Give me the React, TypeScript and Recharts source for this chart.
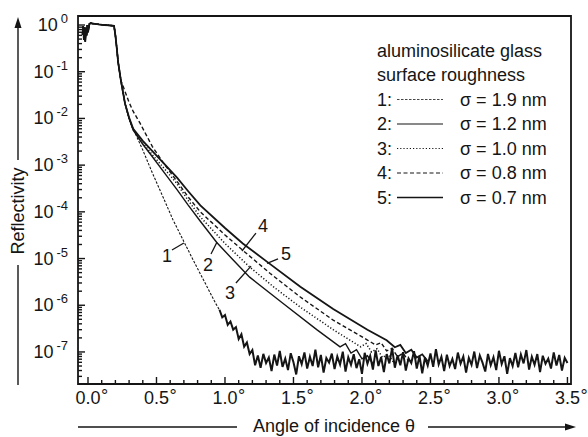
import {
  LineChart,
  Line,
  XAxis,
  YAxis,
  ReferenceArea,
  ReferenceLine,
  ReferenceDot,
  Legend,
} from "recharts";

const INK = "#151515";
const FONT = '"Liberation Sans", Arial, Helvetica, sans-serif';

// shared start: wiggle at grazing incidence, plateau, edge of total reflection
const headAngle = [-0.04, -0.035, -0.03, -0.025, -0.02, -0.015, -0.01, -0.005, 0.0, 0.01, 0.02, 0.03, 0.05, 0.08, 0.12, 0.16, 0.19, 0.2, 0.21, 0.22, 0.24];
const headR = [0.62, 0.95, 0.48, 0.9, 0.44, 0.85, 0.6, 1.0, 0.7, 1.05, 1.1, 1.08, 1.06, 1.03, 1.0, 0.98, 0.96, 0.6, 0.32, 0.16, 0.065];

// sigma = 1.9 nm
const curve1Angle = [0.27, 0.3, 0.33, 0.4, 0.47, 0.55, 0.62, 0.7, 0.78, 0.86, 0.93, 0.96];
const curve1R = [2.1e-2, 1.0e-2, 6.0e-3, 2.1e-3, 6.8e-4, 2.0e-4, 6.8e-5, 2.3e-5, 7.9e-6, 2.8e-6, 1.12e-6, 7.9e-7];

// sigma = 1.2 nm
const curve2Angle = [0.27, 0.3, 0.33, 0.4, 0.47, 0.58, 0.65, 0.73, 0.82, 0.94, 1.06, 1.18, 1.42, 1.67, 1.84, 1.88, 1.92, 1.96, 2.0, 2.04, 2.08];
const curve2R = [2.1e-2, 1.0e-2, 5.6e-3, 2.8e-3, 1.51e-3, 5.6e-4, 3.0e-4, 1.41e-4, 6.3e-5, 2.2e-5, 9.3e-6, 4.0e-6, 1.12e-6, 3.0e-7, 1.29e-7, 1.51e-7, 9.5e-8, 1.12e-7, 7.1e-8, 8.3e-8, 5.6e-8];

// sigma = 1.0 nm
const curve3Angle = [0.27, 0.3, 0.33, 0.4, 0.47, 0.55, 0.65, 0.73, 0.82, 1.0, 1.18, 1.36, 1.55, 1.79, 1.99, 2.03, 2.07, 2.11, 2.15, 2.19, 2.23];
const curve3R = [2.1e-2, 1.0e-2, 5.8e-3, 3.0e-3, 1.66e-3, 8.9e-4, 4.0e-4, 1.78e-4, 7.8e-5, 2.1e-5, 6.6e-6, 2.4e-6, 9.1e-7, 3.0e-7, 1.29e-7, 1.51e-7, 1.0e-7, 1.17e-7, 7.6e-8, 8.9e-8, 6.0e-8];

// sigma = 0.8 nm
const curve4Angle = [0.27, 0.3, 0.33, 0.38, 0.47, 0.55, 0.65, 0.73, 0.82, 1.0, 1.13, 1.33, 1.55, 1.79, 2.04, 2.1, 2.14, 2.18, 2.22, 2.26, 2.3, 2.34];
const curve4R = [3.8e-2, 2.2e-2, 1.41e-2, 7.9e-3, 2.5e-3, 1.12e-3, 4.5e-4, 2.1e-4, 1.0e-4, 3.2e-5, 1.5e-5, 4.8e-6, 1.5e-6, 4.8e-7, 1.8e-7, 1.41e-7, 1.58e-7, 1.05e-7, 1.2e-7, 7.9e-8, 9.5e-8, 6.3e-8];

// sigma = 0.7 nm
const curve5Angle = [0.27, 0.3, 0.33, 0.4, 0.47, 0.55, 0.65, 0.73, 0.82, 1.0, 1.13, 1.33, 1.55, 1.79, 2.04, 2.18, 2.24, 2.28, 2.32, 2.36, 2.4, 2.44, 2.48];
const curve5R = [2.1e-2, 1.05e-2, 6.0e-3, 3.3e-3, 2.0e-3, 1.12e-3, 5.4e-4, 2.8e-4, 1.38e-4, 4.5e-5, 2.1e-5, 7.6e-6, 2.5e-6, 8.3e-7, 3.0e-7, 1.78e-7, 1.26e-7, 1.41e-7, 9.5e-8, 1.12e-7, 7.6e-8, 8.9e-8, 6.3e-8];

// detector background (tail of curve 1 and the common floor), every 0.02 deg, in units of 1e-8
const floorStart = 0.96;
const floorStep = 0.02;
const floorR = [
  80, 55, 62, 38, 45, 30, 34, 19, 24, 13, 16, 9, 11,
  5.2, 8.4, 4.6, 9.1, 5.8, 7.6, 3.9, 8.8, 5.1, 10.5,
  4.8, 7.2, 4.1, 9.4, 6.0, 3.3, 8.1, 5.5, 9.8, 4.4,
  7.9, 5.0, 11.2, 4.7, 8.6, 3.6, 7.4, 5.9, 9.2, 4.3,
  8.0, 5.4, 10.1, 3.8, 7.7, 5.3, 8.9, 4.5, 7.0, 3.4,
  9.6, 5.6, 8.3, 4.2, 10.8, 5.0, 7.8, 3.7, 9.0, 5.7,
  12.0, 4.6, 8.5, 5.2, 9.9, 4.0, 7.3, 5.8, 10.4, 4.4,
  8.2, 3.5, 7.6, 5.1, 9.3, 4.8, 11.5, 5.4, 7.9, 3.9,
  8.7, 5.0, 7.1, 4.3, 9.7, 5.6, 8.0, 3.6, 7.5, 5.3,
  10.2, 4.5, 8.4, 5.9, 3.8, 9.1, 5.2, 7.7, 4.1, 10.6,
  5.5, 8.1, 3.4, 7.4, 5.0, 9.5, 4.7, 8.8, 5.7, 11.0,
  4.2, 7.9, 5.3, 9.0, 3.7, 8.3, 5.6, 7.2, 4.4, 9.8,
  5.1, 8.6, 4.0, 7.5, 5.8,
];

const curveIds = ["1", "2", "3", "4", "5"];
const sigmaNm = ["1.9", "1.2", "1.0", "0.8", "0.7"];

// curve number labels with their leader lines
const labelAngle = [0.577, 0.876, 1.036, 1.277, 1.445];
const labelR = [1.13e-5, 7.6e-6, 1.83e-6, 5.0e-5, 1.3e-5];
const leaderFromAngle = [0.613, 0.898, 1.08, 1.226, 1.387];
const leaderFromR = [1.52e-5, 1.25e-5, 3.0e-6, 3.5e-5, 9.8e-6];
const leaderToAngle = [0.7, 0.942, 1.19, 1.124, 1.307];
const leaderToR = [2.15e-5, 2.26e-5, 6.9e-6, 1.45e-5, 7.9e-6];

const angleTicks = [
  0, 0.1, 0.2, 0.3, 0.4, 0.5, 0.6, 0.7, 0.8, 0.9, 1.0, 1.1, 1.2, 1.3, 1.4, 1.5, 1.6, 1.7,
  1.8, 1.9, 2.0, 2.1, 2.2, 2.3, 2.4, 2.5, 2.6, 2.7, 2.8, 2.9, 3.0, 3.1, 3.2, 3.3, 3.4, 3.5,
];
const decades = [1e-8, 1e-7, 1e-6, 1e-5, 1e-4, 1e-3, 1e-2, 1e-1, 1];
const minorMantissa = [1, 2, 3, 4, 5, 6, 7, 8, 9];

const xDomain: [number, number] = [-0.073, 3.526];
const yDomain: [number, number] = [2.06e-8, 1.56];

const yTicks = decades
  .flatMap((d) => minorMantissa.map((m) => d * m))
  .filter((v) => v >= yDomain[0] && v <= yDomain[1]);

const dashes = ["2.5 1.5", undefined, "1.2 2", "4 2.5", undefined];
const widths = [1.1, 1.4, 1.5, 1.4, 1.8];

const toPoints = (angles: number[], values: number[]) =>
  angles.map((a, i) => ({ angle: a, r: values[i] }));

const headPoints = toPoints(headAngle, headR);
const tails = [
  toPoints(curve1Angle, curve1R),
  toPoints(curve2Angle, curve2R),
  toPoints(curve3Angle, curve3R),
  toPoints(curve4Angle, curve4R),
  toPoints(curve5Angle, curve5R),
];
const series = curveIds.map((id, i) => ({ id, data: [...headPoints, ...tails[i]] }));
const floorPoints = floorR.map((v, i) => ({ angle: floorStart + i * floorStep, r: v * 1e-8 }));

function AngleTick(props: any) {
  const { x, y, payload } = props;
  const v = payload.value as number;
  const major = Math.abs(v * 2 - Math.round(v * 2)) < 1e-6;
  return (
    <g>
      <line x1={x} x2={x} y1={y} y2={y - (major ? 7 : 4)} stroke={INK} strokeWidth={1.4} />
      {major && (
        <>
          <text x={x} y={y + 20} textAnchor="middle" fontSize={18} fontFamily={FONT} fill={INK}>
            {v.toFixed(1)}
          </text>
          <text x={x + 13} y={y + 18} fontSize={18} fontFamily={FONT} fill={INK}>
            °
          </text>
        </>
      )}
    </g>
  );
}

function DecadeTick(props: any) {
  const { x, y, payload } = props;
  const e = Math.log10(payload.value as number);
  const major = Math.abs(e - Math.round(e)) < 1e-6;
  return (
    <g>
      <line x1={x} x2={x + (major ? 7 : 4)} y1={y} y2={y} stroke={INK} strokeWidth={1.4} />
      {major && (
        <text x={x - 10} y={y + 6} textAnchor="end" fontSize={18} fontFamily={FONT} fill={INK}>
          10
          <tspan dx={3} dy={-8} fontSize={13}>
            {String(Math.round(e))}
          </tspan>
        </text>
      )}
    </g>
  );
}

function XTitle() {
  return (
    <g>
      <line x1={78} x2={237} y1={427} y2={427} stroke={INK} strokeWidth={1.4} />
      <text x={334} y={432} textAnchor="middle" fontSize={18} fontFamily={FONT} fill={INK}>
        Angle of incidence θ
      </text>
      <line x1={428} x2={567} y1={427} y2={427} stroke={INK} strokeWidth={1.4} />
      <polygon points="576,427 565,423.5 565,430.5" fill={INK} />
    </g>
  );
}

function YTitle() {
  return (
    <g>
      <line x1={18} x2={18} y1={385} y2={265} stroke={INK} strokeWidth={1.4} />
      <text
        x={18}
        y={211}
        transform="rotate(-90 18 211)"
        textAnchor="middle"
        dominantBaseline="central"
        fontSize={18}
        fontFamily={FONT}
        fill={INK}
      >
        Reflectivity
      </text>
      <line x1={18} x2={18} y1={160} y2={27} stroke={INK} strokeWidth={1.4} />
      <polygon points="18,17 14.5,28 21.5,28" fill={INK} />
    </g>
  );
}

function LegendBlock() {
  const txt = { fontSize: 18, fontFamily: FONT, fill: INK };
  return (
    <svg width={210} height={185} style={{ display: "block" }}>
      <text x={7} y={26.5} {...txt}>aluminosilicate glass</text>
      <text x={7} y={50.5} {...txt}>surface roughness</text>
      {curveIds.map((id, i) => {
        const y = 75.5 + i * 24.5;
        return (
          <g key={id}>
            <text x={7} y={y} {...txt}>{id}:</text>
            <line
              x1={27}
              x2={73}
              y1={y - 6}
              y2={y - 6}
              stroke={INK}
              strokeWidth={widths[i] - 0.3}
              strokeDasharray={dashes[i]}
            />
            <text x={90} y={y} {...txt}>σ = {sigmaNm[i]} nm</text>
          </g>
        );
      })}
    </svg>
  );
}

export default function App() {
  return (
    <div style={{ width: 588, height: 437, background: "#fff" }}>
      <style>{"body{margin:0}"}</style>
      <LineChart width={588} height={437} margin={{ top: 16, right: 17, bottom: 0, left: 0 }}>
        <XAxis
          dataKey="angle"
          type="number"
          domain={xDomain}
          allowDataOverflow
          ticks={angleTicks}
          interval={0}
          height={53}
          tickSize={0}
          tickMargin={0}
          axisLine={false}
          tickLine={false}
          tick={(p: any) => <AngleTick {...p} />}
          label={{ content: () => <XTitle /> }}
        />
        <YAxis
          type="number"
          scale="log"
          domain={yDomain}
          allowDataOverflow
          ticks={yTicks}
          interval={0}
          width={78}
          tickSize={0}
          tickMargin={0}
          axisLine={false}
          tickLine={false}
          tick={(p: any) => <DecadeTick {...p} />}
          label={{ content: () => <YTitle /> }}
        />
        <ReferenceArea
          x1={xDomain[0]}
          x2={xDomain[1]}
          y1={yDomain[0]}
          y2={yDomain[1]}
          fill="none"
          stroke={INK}
          strokeWidth={1.8}
          ifOverflow="visible"
        />
        <Legend
          layout="horizontal"
          verticalAlign="middle"
          align="center"
          wrapperStyle={{ left: 370, top: 30, width: 210, height: 185 }}
          content={() => <LegendBlock />}
        />
        <Line
          data={floorPoints}
          dataKey="r"
          type="linear"
          stroke={INK}
          strokeWidth={2}
          dot={false}
          activeDot={false}
          legendType="none"
          isAnimationActive={false}
        />
        {series.map((s, i) => (
          <Line
            key={s.id}
            data={s.data}
            dataKey="r"
            type="linear"
            stroke={INK}
            strokeWidth={widths[i]}
            strokeDasharray={dashes[i]}
            dot={false}
            activeDot={false}
            legendType="none"
            isAnimationActive={false}
          />
        ))}
        {curveIds.map((id, i) => (
          <ReferenceLine
            key={"leader" + id}
            segment={[
              { x: leaderFromAngle[i], y: leaderFromR[i] },
              { x: leaderToAngle[i], y: leaderToR[i] },
            ]}
            stroke={INK}
            strokeWidth={1.3}
            ifOverflow="visible"
          />
        ))}
        {curveIds.map((id, i) => (
          <ReferenceDot
            key={"label" + id}
            x={labelAngle[i]}
            y={labelR[i]}
            r={0}
            fill="none"
            stroke="none"
            ifOverflow="visible"
            label={{ value: id, position: "center", fill: INK, fontSize: 18, fontFamily: FONT }}
          />
        ))}
      </LineChart>
    </div>
  );
}
